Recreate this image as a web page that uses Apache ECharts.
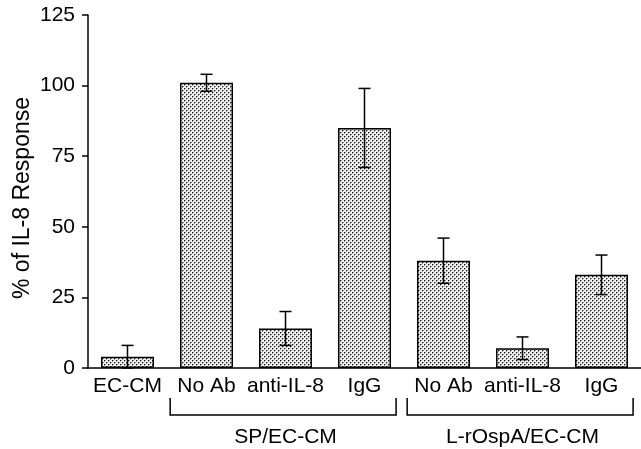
<!DOCTYPE html>
<html>
<head>
<meta charset="utf-8">
<script src="https://cdn.jsdelivr.net/npm/echarts@6/dist/echarts.min.js"></script>
<style>
html,body{margin:0;padding:0;background:#fff;}
#chart{width:641px;height:449px;}
</style>
</head>
<body>
<div id="chart"></div>
<script>
// ---- data ----
var categories = ['EC-CM', 'No Ab', 'anti-IL-8', 'IgG', 'No Ab', 'anti-IL-8', 'IgG'];
var values = [4, 101, 14, 85, 38, 7, 33];
var errors = [4, 3, 6, 14, 8, 4, 7];
var groupNames = ['SP/EC-CM', 'L-rOspA/EC-CM'];
var groupStart = [1, 4];
var groupEnd = [3, 6];
var yTicks = [0, 25, 50, 75, 100, 125];
var yTitle = '% of IL-8 Response';

// ---- stipple pattern ----
var pc = document.createElement('canvas');
pc.width = 4; pc.height = 4;
var pctx = pc.getContext('2d');
pctx.fillStyle = '#f0f0f0';
pctx.fillRect(0, 0, 4, 4);
pctx.fillStyle = '#999';
pctx.fillRect(1, 0, 1, 1); pctx.fillRect(0, 1, 1, 1);
pctx.fillRect(3, 2, 1, 1); pctx.fillRect(2, 3, 1, 1);
pctx.fillStyle = '#1a1a1a';
pctx.fillRect(0, 0, 1, 1);
pctx.fillRect(2, 2, 1, 1);

var FONT = '"Liberation Sans", Arial, sans-serif';

var errData = values.map(function (v, i) { return [i, v - errors[i], v + errors[i]]; });
var groupData = groupNames.map(function (n, i) { return [groupStart[i], groupEnd[i], i]; });

var chart = echarts.init(document.getElementById('chart'), null, {renderer: 'canvas'});
chart.setOption({
  animation: false,
  backgroundColor: '#fff',
  grid: {left: 88, top: 15, width: 558, height: 353},
  xAxis: {
    type: 'category',
    data: categories,
    boundaryGap: true,
    axisLine: {lineStyle: {color: '#000', width: 1.5}},
    axisTick: {show: false},
    axisLabel: {color: '#000', fontSize: 21, fontFamily: FONT, margin: 8, interval: 0}
  },
  yAxis: {
    type: 'value',
    min: yTicks[0],
    max: yTicks[yTicks.length - 1],
    interval: 25,
    splitLine: {show: false},
    axisLine: {show: true, lineStyle: {color: '#000', width: 1.5}},
    axisTick: {show: true, length: 6, lineStyle: {color: '#000', width: 1.5}},
    axisLabel: {color: '#000', fontSize: 21, fontFamily: FONT, margin: 13},
    name: yTitle,
    nameLocation: 'middle',
    nameRotate: 90,
    nameGap: 54,
    nameMoveOverlap: false,
    nameTextStyle: {color: '#000', fontSize: 23, fontFamily: FONT, padding: [0, 13, 0, 0]}
  },
  series: [
    {
      type: 'bar',
      data: values,
      barWidth: 53,
      itemStyle: {color: {image: pc, repeat: 'repeat'}, borderColor: '#000', borderWidth: 1.5},
      z: 2
    },
    {
      type: 'custom',
      data: errData,
      z: 5,
      renderItem: function (params, api) {
        var x = api.value(0);
        var lo = api.coord([x, Math.max(api.value(1), 0)]);
        var hi = api.coord([x, api.value(2)]);
        var hw = 6;
        var st = {stroke: '#000', lineWidth: 1.5};
        return {
          type: 'group',
          children: [
            {type: 'line', shape: {x1: hi[0], y1: hi[1], x2: lo[0], y2: lo[1]}, style: st},
            {type: 'line', shape: {x1: hi[0] - hw, y1: hi[1], x2: hi[0] + hw, y2: hi[1]}, style: st},
            {type: 'line', shape: {x1: lo[0] - hw, y1: lo[1], x2: lo[0] + hw, y2: lo[1]}, style: st}
          ]
        };
      }
    },
    {
      type: 'custom',
      data: groupData,
      clip: false,
      z: 5,
      renderItem: function (params, api) {
        var s = api.value(0), e = api.value(1), gi = api.value(2);
        var band = api.size([1, 0])[0];
        var p0 = api.coord([s, 0]);
        var p1 = api.coord([e, 0]);
        var pm = api.coord([(s + e) / 2, 0]);
        var x1 = p0[0] - 0.46 * band, x2 = p1[0] + 0.4 * band;
        var yTop = p0[1] + 30, yBot = p0[1] + 47;
        return {
          type: 'group',
          children: [
            {type: 'polyline', shape: {points: [[x1, yTop], [x1, yBot], [x2, yBot], [x2, yTop]]}, style: {stroke: '#000', lineWidth: 1.5, fill: null}},
            {type: 'text', style: {text: groupNames[gi], x: pm[0], y: p0[1] + 69, align: 'center', verticalAlign: 'middle', fontSize: 21, fontFamily: FONT, fill: '#000'}}
          ]
        };
      }
    }
  ]
});
</script>
</body>
</html>
